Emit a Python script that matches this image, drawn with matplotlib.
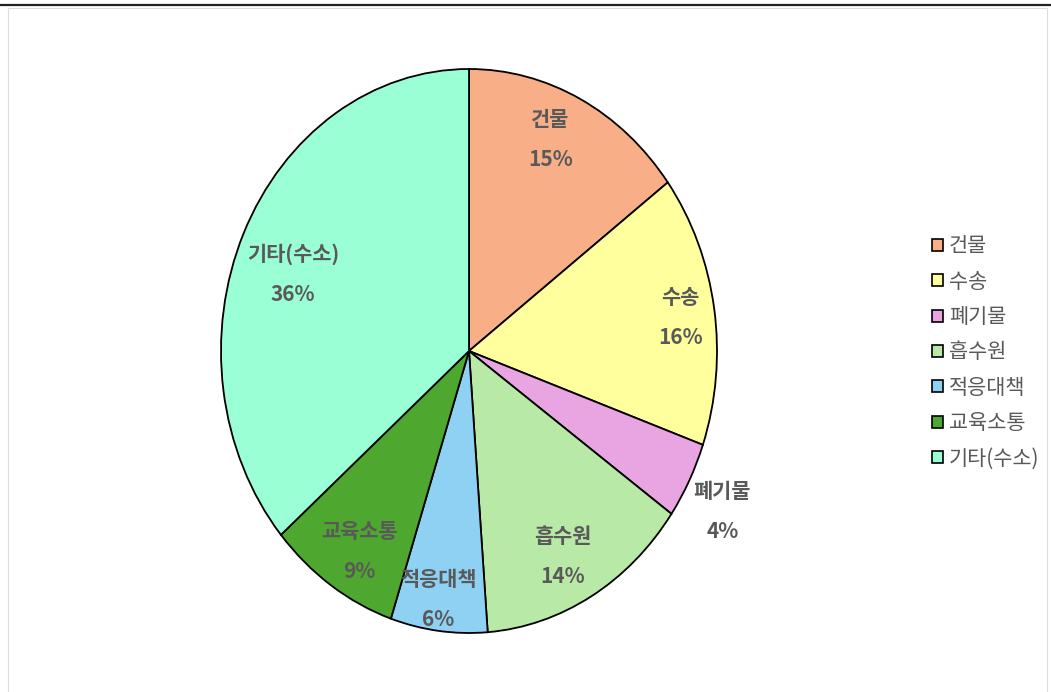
import numpy as np
import matplotlib
matplotlib.use("Agg")
import matplotlib.pyplot as plt
from matplotlib.patches import Rectangle
from matplotlib.lines import Line2D

plt.rcParams["font.family"] = ["Noto Sans CJK KR", "DejaVu Sans"]

# -- data --
categories = ["건물", "수송", "폐기물", "흡수원", "적응대책", "교육소통", "기타(수소)"]
shares = [14.8, 15.6, 4.4, 14.0, 6.3, 8.6, 36.3]
colors = ["#F8AE87", "#FFFF9E", "#E8A5E1", "#B9E9A7", "#8ED1F3", "#4EA72E", "#9BFFD6"]

# label placement: distance from centre (fraction of radius) and angle nudge (deg)
label_r = [0.82, 0.86, 1.17, 0.82, 0.89, 0.835, 0.76]
label_dt = [3.0, -0.6, -1.8, -2.0, -1.0, 2.0, 3.6]

TEXT = "#595959"

fig = plt.figure(figsize=(10.51, 6.92), dpi=100)
fig.patch.set_facecolor("white")

# frame + top rule
fig.add_artist(Rectangle((8 / 1051, -0.01), 1039 / 1051, 1 - 8 / 692 + 0.01,
                         transform=fig.transFigure, facecolor="none",
                         edgecolor="#DDDDDD", linewidth=0.8))
fig.add_artist(Line2D([0, 1], [1 - 5 / 692, 1 - 5 / 692], transform=fig.transFigure,
                      color="#222222", linewidth=1.6))

ax = fig.add_axes([221 / 1051, 59 / 692, 496 / 1051, 564 / 692])
wedges, _ = ax.pie(shares, colors=colors, startangle=90, counterclock=False,
                   radius=1.0,
                   wedgeprops=dict(edgecolor="black", linewidth=1.3))
ax.set_aspect("auto")
ax.set_xlim(-1, 1)
ax.set_ylim(-1, 1)

for w, name, val, r, dt in zip(wedges, categories, shares, label_r, label_dt):
    mid = np.deg2rad((w.theta1 + w.theta2) / 2 + dt)
    x, y = r * np.cos(mid), r * np.sin(mid)
    ax.text(x, y + 0.071, name, ha="center", va="center", fontsize=15,
            fontweight="bold", color=TEXT)
    ax.text(x, y - 0.071, f"{val:.0f}%", ha="center", va="center", fontsize=15,
            fontweight="bold", color=TEXT)

leg = fig.legend(wedges, categories, loc="upper left",
                 bbox_to_anchor=(922 / 1051, 1 - 225 / 692), frameon=False,
                 fontsize=15, handlelength=0.5, handleheight=0.5,
                 handletextpad=0.3, labelspacing=0.64, borderpad=0)
for t in leg.get_texts():
    t.set_color(TEXT)
for h in leg.legend_handles:
    h.set_linewidth(1.2)
    h.set_edgecolor("black")

fig.savefig("out.png", dpi=100)
